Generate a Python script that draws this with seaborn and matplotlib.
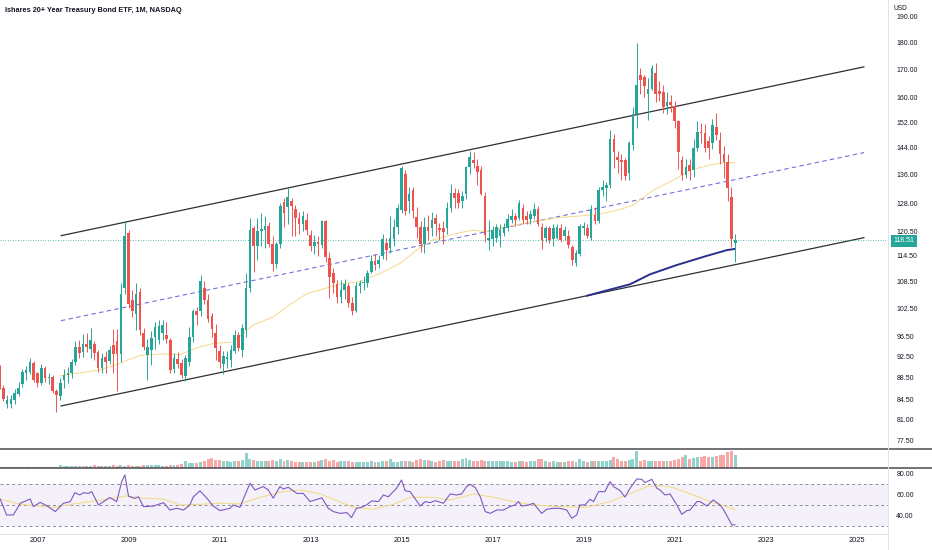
import numpy as np
import pandas as pd
import matplotlib
matplotlib.use("Agg")
import matplotlib.pyplot as plt
import seaborn as sns
from matplotlib.lines import Line2D
from matplotlib.ticker import NullLocator, FixedLocator, FixedFormatter

sns.set_theme(style="white")
plt.rcParams["font.family"] = ["Liberation Sans", "DejaVu Sans"]

# ---------------- data (monthly candles, Mar 2006 .. May 2022) ----------------
start_year, start_month = 2006, 3

opens = [
    90.6, 86.6, 83.7, 83.6, 84.4, 85.4, 87.3, 89.3, 89.6, 91.2,
    89.3, 87.4, 90.3, 88.3, 88.5, 86.0, 85.0, 88.0, 89.0, 89.4, 91.4, 94.4,
    93.3, 95.0, 94.0, 95.0, 93.4, 90.3, 92.4, 91.6, 94.8, 95.5, 93.0, 106.9,
    120.1, 104.3, 101.2, 106.0, 97.2, 92.8, 93.7, 96.5, 95.8, 97.2, 96.8, 95.8,
    90.0, 92.0, 91.2, 88.8, 91.4, 96.5, 101.8, 101.8, 107.0, 104.3, 100.8, 97.2,
    93.5, 91.0, 92.0, 91.9, 93.5, 96.8, 93.8, 97.8, 107.0, 121.5, 116.9, 120.7,
    121.0, 121.9, 117.5, 112.5, 117.3, 128.4, 127.0, 128.5, 126.5, 124.1, 122.6, 123.5,
    119.6, 116.8, 117.9, 117.2, 123.3, 114.0, 110.3, 107.8, 104.9, 106.5, 107.5, 103.6,
    101.9, 107.3, 108.2, 108.1, 110.6, 113.3, 112.5, 114.5, 117.6, 116.3, 118.6, 121.6,
    126.2, 136.2, 128.7, 131.6, 124.2, 121.6, 117.4, 121.6, 121.4, 124.1, 121.5, 121.4,
    121.4, 126.7, 130.7, 130.7, 128.6, 130.4, 138.2, 140.3, 138.4, 137.3, 130.1, 118.4,
    118.7, 119.0, 119.4, 120.2, 121.4, 123.5, 124.7, 124.1, 126.8, 124.7, 123.7, 124.7,
    126.4, 121.6, 119.0, 121.4, 118.7, 119.0, 121.4, 119.4, 119.5, 116.6, 112.7, 115.0,
    121.4, 121.4, 118.9, 124.9, 123.2, 131.6, 132.2, 133.0, 146.8, 141.3, 140.3, 140.3,
    136.6, 144.8, 154.7, 167.9, 167.3, 161.5, 163.2, 168.6, 162.5, 162.0, 157.2, 158.5,
    157.4, 152.3, 140.3, 136.0, 138.7, 137.3, 143.8, 149.0, 148.4, 146.0, 145.3, 150.5,
    146.3, 142.1, 139.6, 129.8, 117.7,
]
highs = [
    90.9, 87.1, 85.2, 85.3, 86.3, 87.6, 90.0, 90.6, 92.3, 91.6,
    89.6, 91.1, 90.7, 89.3, 88.9, 86.4, 88.3, 90.0, 90.5, 92.0, 95.5, 95.8,
    97.0, 97.2, 98.3, 95.6, 93.8, 93.2, 93.6, 94.5, 98.0, 98.0, 108.0, 123.2,
    121.0, 106.5, 108.0, 107.0, 98.2, 96.0, 97.7, 99.5, 100.0, 100.0, 99.5, 96.3,
    93.2, 93.3, 92.0, 92.8, 98.5, 102.2, 102.8, 109.9, 108.5, 105.5, 101.5, 99.0,
    94.8, 93.5, 93.5, 94.8, 97.8, 97.5, 99.0, 110.5, 124.0, 122.0, 124.0, 125.4,
    124.5, 123.0, 119.5, 118.0, 128.0, 129.5, 132.2, 129.5, 127.5, 125.6, 125.9, 125.5,
    121.0, 119.7, 119.5, 123.5, 123.6, 115.5, 111.5, 108.7, 108.8, 109.0, 108.2, 105.0,
    108.4, 108.9, 109.6, 111.1, 114.7, 115.0, 114.6, 119.8, 119.0, 124.5, 123.8, 127.9,
    138.5, 137.2, 132.5, 132.5, 127.0, 123.3, 124.3, 124.9, 125.6, 125.1, 122.8, 123.2,
    128.4, 133.4, 132.1, 132.0, 131.5, 138.5, 143.1, 142.8, 140.5, 138.5, 131.0, 123.5,
    122.0, 122.5, 122.5, 122.8, 125.0, 126.5, 125.5, 129.0, 127.8, 125.9, 126.1, 128.0,
    127.2, 122.8, 122.0, 122.1, 122.5, 122.5, 122.5, 122.0, 121.0, 117.2, 115.9, 122.5,
    123.0, 122.6, 127.5, 127.1, 132.4, 134.5, 134.0, 149.6, 148.3, 143.0, 142.0, 141.0,
    146.0, 157.0, 179.7, 170.6, 168.0, 167.0, 171.6, 172.2, 166.0, 164.5, 162.0, 161.0,
    159.0, 152.8, 141.5, 140.5, 140.5, 146.6, 152.4, 151.8, 151.5, 147.5, 153.0, 155.1,
    148.8, 144.5, 142.0, 132.5, 119.9,
]
lows = [
    86.3, 84.2, 83.0, 82.9, 83.6, 85.0, 86.8, 88.0, 89.2, 87.6,
    86.8, 87.0, 87.6, 87.3, 85.7, 82.3, 84.4, 86.5, 87.4, 88.4, 90.8, 92.2,
    92.5, 93.3, 92.3, 91.8, 89.6, 89.3, 89.4, 91.0, 89.4, 86.0, 91.5, 105.5,
    102.5, 100.6, 97.8, 96.8, 93.8, 88.0, 90.9, 94.0, 95.0, 95.8, 95.2, 89.4,
    89.3, 90.3, 88.4, 87.8, 90.6, 95.3, 98.8, 100.8, 103.5, 99.5, 96.5, 91.8,
    90.3, 89.2, 90.3, 90.5, 93.2, 93.5, 92.5, 96.5, 106.0, 110.6, 113.5, 116.9,
    116.5, 116.6, 110.9, 111.5, 116.5, 121.8, 122.5, 119.5, 119.5, 119.8, 120.6, 119.7,
    115.6, 114.9, 114.5, 116.4, 112.9, 104.8, 105.8, 103.7, 103.6, 104.6, 102.8, 101.0,
    101.6, 105.9, 106.4, 107.2, 110.3, 111.2, 111.6, 113.8, 113.5, 115.1, 117.0, 119.9,
    125.5, 124.8, 125.3, 124.0, 119.0, 115.5, 115.1, 118.4, 119.5, 119.5, 118.5, 117.5,
    119.8, 125.6, 126.6, 126.8, 126.6, 129.2, 136.2, 137.8, 133.0, 130.2, 117.8, 116.0,
    117.0, 118.0, 116.6, 119.5, 120.8, 122.8, 121.9, 123.5, 122.5, 122.6, 122.6, 123.8,
    122.0, 116.2, 117.8, 117.6, 116.8, 118.6, 118.0, 118.5, 116.3, 112.4, 112.0, 114.4,
    119.6, 119.0, 118.5, 122.5, 122.8, 129.9, 128.6, 132.2, 138.0, 136.5, 134.6, 134.5,
    134.5, 143.3, 150.2, 161.2, 160.3, 152.7, 162.6, 158.6, 159.1, 154.9, 154.6, 155.3,
    150.0, 137.5, 134.5, 135.0, 134.6, 135.2, 143.0, 145.5, 142.8, 140.5, 143.5, 146.5,
    139.0, 135.0, 128.5, 116.6, 112.9,
]
closes = [
    86.7, 84.5, 84.4, 84.5, 85.6, 86.6, 89.5, 89.9, 91.4, 88.0,
    87.4, 90.3, 88.4, 88.6, 86.0, 85.2, 87.4, 89.0, 89.4, 91.5, 94.4, 93.1,
    95.0, 94.3, 95.7, 93.1, 90.3, 92.3, 91.5, 93.8, 92.9, 93.0, 105.7, 119.3,
    103.5, 101.8, 105.7, 97.8, 94.4, 94.4, 96.3, 98.4, 98.6, 98.8, 95.9, 89.9,
    92.3, 91.0, 88.9, 92.3, 96.5, 101.8, 101.0, 108.5, 104.3, 100.2, 98.0, 94.1,
    91.4, 92.6, 92.4, 93.8, 96.8, 94.1, 98.3, 107.0, 120.9, 117.0, 120.7, 121.3,
    121.9, 117.4, 112.6, 117.3, 127.3, 125.3, 129.8, 127.2, 124.1, 122.6, 124.6, 120.9,
    116.8, 117.9, 117.3, 123.3, 114.2, 109.4, 108.0, 104.9, 106.5, 107.8, 103.6, 101.9,
    107.3, 108.2, 108.4, 110.4, 113.2, 112.4, 113.4, 118.6, 116.0, 119.0, 121.6, 126.8,
    137.8, 125.8, 130.4, 125.8, 121.6, 117.4, 121.6, 120.6, 123.5, 122.6, 120.9, 120.5,
    126.8, 130.7, 129.4, 128.1, 130.1, 138.2, 141.3, 139.3, 136.9, 130.4, 119.6, 119.0,
    120.9, 121.6, 120.9, 121.6, 123.9, 124.7, 123.5, 128.1, 123.5, 123.5, 125.1, 126.4,
    122.6, 118.4, 121.4, 118.4, 121.4, 121.6, 118.4, 120.9, 117.1, 113.5, 115.3, 121.9,
    121.9, 119.5, 126.4, 123.2, 131.6, 132.5, 133.0, 146.8, 142.8, 140.3, 139.7, 135.5,
    145.3, 154.7, 164.5, 166.2, 164.0, 163.2, 170.3, 161.5, 161.2, 157.0, 158.7, 157.5,
    152.3, 142.8, 136.0, 138.3, 137.0, 143.8, 149.0, 148.4, 143.8, 144.0, 151.2, 147.8,
    142.1, 139.6, 132.1, 118.7, 118.51,
]
volumes = [
    3, 3, 3, 3, 3, 3, 3, 3, 3, 3,
    3, 3, 3, 3, 3, 4, 9, 7, 6, 6, 7, 7,
    6, 7, 7, 8, 7, 7, 7, 7, 8, 6, 8, 7,
    8, 7, 7, 7, 8, 10, 9, 8, 8, 7, 6, 8,
    8, 9, 12, 22, 16, 14, 16, 19, 21, 26, 29, 24,
    24, 21, 20, 17, 20, 21, 24, 45, 28, 24, 21, 20,
    20, 21, 24, 20, 26, 21, 24, 20, 17, 19, 18, 17,
    17, 18, 21, 24, 26, 21, 24, 19, 21, 20, 20, 19,
    18, 19, 19, 19, 20, 19, 19, 20, 20, 26, 17, 19,
    20, 21, 21, 18, 24, 26, 24, 23, 20, 19, 21, 24,
    22, 20, 20, 21, 26, 29, 24, 21, 20, 24, 21, 20,
    21, 20, 21, 20, 20, 19, 19, 21, 20, 19, 21, 20,
    28, 26, 20, 19, 20, 18, 19, 18, 21, 20, 19, 26,
    20, 19, 21, 20, 22, 21, 20, 24, 34, 26, 20, 21,
    24, 26, 52, 21, 24, 20, 22, 21, 20, 21, 22, 20,
    24, 26, 34, 40, 26, 31, 34, 34, 35, 34, 34, 36,
    40, 40, 48, 50, 40,
]
last_price = 118.51

# 50-period moving average (yellow)
ma50_t = [2007.49, 2008.37, 2008.81, 2009.25, 2009.69, 2010.13, 2010.57, 2010.86,
          2011.30, 2011.74, 2012.18, 2012.48, 2012.92, 2013.21, 2013.65, 2014.09,
          2014.53, 2014.97, 2015.33, 2015.69, 2016.21, 2016.57, 2016.87, 2017.31,
          2017.89, 2018.48, 2018.92, 2019.36, 2019.80, 2020.09, 2020.53, 2020.97,
          2021.34, 2021.78, 2022.07, 2022.33]
ma50_v = [88.8, 89.9, 91.2, 92.7, 93.0, 92.9, 94.4, 95.1,
          95.4, 98.9, 100.6, 102.8, 105.7, 106.5, 107.9, 108.4,
          110.3, 112.7, 115.9, 118.4, 120.1, 120.9, 120.5, 121.8,
          123.1, 124.2, 124.6, 125.1, 126.3, 127.5, 131.6, 134.4,
          137.3, 138.8, 139.5, 139.5]

# 200-period moving average (navy)
ma200_t = [2019.07, 2019.47, 2020.02, 2020.46, 2021.05, 2021.71, 2022.15, 2022.33]
ma200_v = [105.2, 106.3, 107.8, 110.1, 112.3, 114.5, 115.9, 116.2]

# parallel channel
chan_t = [2007.516, 2025.165]
chan_upper = [119.5, 170.9]
chan_mid = [99.8, 142.5]
chan_lower = [83.3, 119.0]

# RSI (purple) and its moving average (yellow)
rsi_t = [2006.18, 2006.32, 2006.47, 2006.62, 2006.84, 2006.91, 2007.06, 2007.20, 2007.39,
         2007.57, 2007.72, 2007.82, 2007.93, 2008.01, 2008.12, 2008.19, 2008.34, 2008.45,
         2008.59, 2008.74, 2008.85, 2008.92, 2009.00, 2009.14, 2009.22, 2009.33, 2009.55,
         2009.77, 2009.91, 2010.06, 2010.21, 2010.35, 2010.42, 2010.57, 2010.72, 2010.86,
         2011.01, 2011.23, 2011.30, 2011.45, 2011.56, 2011.67, 2011.78, 2011.96, 2012.07,
         2012.18, 2012.33, 2012.40, 2012.51, 2012.70, 2012.84, 2012.99, 2013.25, 2013.39,
         2013.50, 2013.65, 2013.80, 2013.90, 2014.01, 2014.12, 2014.23, 2014.34, 2014.49,
         2014.60, 2014.71, 2014.89, 2015.00, 2015.08, 2015.19, 2015.41, 2015.52, 2015.63,
         2015.74, 2015.92, 2016.07, 2016.21, 2016.32, 2016.43, 2016.51, 2016.62, 2016.73,
         2016.84, 2016.95, 2017.09, 2017.24, 2017.38, 2017.49, 2017.57, 2017.64, 2017.79,
         2017.90, 2018.08, 2018.19, 2018.34, 2018.48, 2018.63, 2018.74, 2018.85, 2018.92,
         2019.03, 2019.14, 2019.22, 2019.33, 2019.47, 2019.58, 2019.66, 2019.80, 2019.91,
         2020.02, 2020.17, 2020.28, 2020.35, 2020.50, 2020.61, 2020.68, 2020.79, 2020.90,
         2021.05, 2021.16, 2021.27, 2021.34, 2021.49, 2021.56, 2021.71, 2021.85, 2022.00,
         2022.07, 2022.18, 2022.26, 2022.33]
rsi_v = [55.7, 40.5, 40.5, 51.6, 55.7, 48.4, 52.5, 49.4, 43.7,
         51.6, 53.2, 61.7, 59.5, 61.7, 61.0, 62.7, 50.0, 53.2,
         57.1, 53.2, 72.2, 78.6, 58.4, 56.2, 57.8, 48.4, 49.0,
         52.2, 45.2, 46.8, 45.2, 50.0, 57.5, 63.5, 56.5, 49.0,
         44.6, 46.8, 50.0, 47.8, 59.5, 70.6, 64.3, 67.5, 64.3,
         56.5, 67.5, 65.2, 66.8, 61.0, 61.0, 53.3, 56.8, 46.8,
         43.7, 42.0, 42.7, 38.0, 46.8, 47.8, 50.0, 53.8, 53.2,
         59.5, 57.8, 65.9, 73.8, 63.5, 62.7, 49.0, 53.2, 52.2,
         54.1, 51.6, 60.5, 59.5, 60.5, 67.5, 69.7, 66.5, 57.8,
         43.7, 42.0, 45.2, 45.2, 48.4, 50.0, 53.2, 49.0, 50.0,
         51.6, 42.0, 45.9, 46.8, 46.8, 45.2, 37.3, 40.5, 50.0,
         50.0, 55.4, 53.2, 62.7, 62.7, 72.2, 67.5, 63.8, 57.5,
         65.9, 74.8, 74.4, 71.3, 74.4, 65.9, 64.3, 59.5, 60.5,
         50.0, 41.1, 44.6, 45.2, 53.2, 53.2, 49.0, 54.8, 50.0,
         45.9, 37.3, 31.0, 31.0]
rsi_ma_t = [2006.18, 2006.62, 2007.05, 2007.38, 2007.79, 2008.30, 2008.74, 2008.96,
            2009.33, 2009.77, 2010.13, 2010.57, 2011.01, 2011.45, 2011.89, 2012.40,
            2012.77, 2013.21, 2013.50, 2013.94, 2014.38, 2014.82, 2015.19, 2015.70,
            2016.07, 2016.58, 2017.02, 2017.46, 2017.90, 2018.48, 2019.07, 2019.58,
            2019.95, 2020.39, 2020.68, 2020.97, 2021.41, 2021.85, 2022.33]
rsi_ma_v = [55.7, 50.6, 49.0, 47.8, 51.0, 54.1, 57.1, 58.7,
            56.5, 55.7, 50.0, 50.6, 51.6, 51.0, 57.3, 62.7,
            64.3, 60.5, 55.4, 47.8, 45.9, 50.6, 57.3, 57.3,
            54.8, 60.5, 57.3, 53.2, 50.0, 48.4, 47.8, 53.2,
            59.5, 67.5, 68.4, 66.5, 59.5, 52.2, 45.9]

price_ticks = [77.5, 81, 84.5, 88.5, 92.5, 96.5, 102.5, 108.5, 114.5, 120.5,
               128, 136, 144, 152, 160, 170, 180, 190]
rsi_ticks = [40, 60, 80]
year_ticks = [2007, 2009, 2011, 2013, 2015, 2017, 2019, 2021, 2023, 2025]
title = "Ishares 20+ Year Treasury Bond ETF, 1M, NASDAQ"

# ---------------- build frame ----------------
n = len(closes)
df = pd.DataFrame({
    "t": [start_year + (start_month - 1 + i) / 12 for i in range(n)],
    "open": opens, "high": highs, "low": lows, "close": closes, "volume": volumes,
})
GREEN, RED = "#26a69a", "#ef5350"
df["color"] = np.where(df["close"] >= df["open"], GREEN, RED)

W, H = 932, 550
fig = plt.figure(figsize=(W / 100, H / 100), dpi=100)
fig.patch.set_facecolor("white")
right = 888 / W
ax = fig.add_axes([0, 1 - 449 / H, right, 449 / H])
axv = fig.add_axes([0, 1 - 468 / H, right, 19 / H])
axr = fig.add_axes([0, 1 - 533 / H, right, 65 / H])

xlim = (2006.176, 2025.69)
price_fs = 5.0
year_fs = 5.4
tick_col = "#131722"

# ---------------- main price pane ----------------
ax.set_yscale("log")
ax.set_xlim(*xlim)
ax.set_ylim(76.04, 196.9)

# channel
sns.lineplot(x=chan_t, y=chan_upper, ax=ax, color="#2f2f33", linewidth=0.9)
sns.lineplot(x=chan_t, y=chan_lower, ax=ax, color="#2f2f33", linewidth=0.9)
ax.plot(chan_t, chan_mid, color="#6d70e0", linewidth=0.8, dashes=(4, 3))

# last price line
ax.axhline(last_price, color=GREEN, linewidth=0.6, linestyle=(0, (1, 2)))

# moving averages
sns.lineplot(x=ma50_t, y=ma50_v, ax=ax, color="#f5d98a", linewidth=0.7)
sns.lineplot(x=ma200_t, y=ma200_v, ax=ax, color="#2b2e91", linewidth=1.4)

# candles
ax.vlines(df["t"], df["low"], df["high"], colors=df["color"], linewidth=0.7, zorder=3)
body = np.maximum((df["close"] - df["open"]).abs(), 0.2)
ax.bar(df["t"], body, bottom=np.minimum(df["open"], df["close"]), width=0.058,
       color=df["color"], linewidth=0, zorder=4)

ax.yaxis.tick_right()
ax.yaxis.set_minor_locator(NullLocator())
ax.yaxis.set_major_locator(FixedLocator(price_ticks))
ax.yaxis.set_major_formatter(FixedFormatter([f"{v:.2f}" for v in price_ticks]))
ax.tick_params(axis="y", length=0, pad=6, labelsize=price_fs, labelcolor=tick_col)
ax.set_xticks([])
for s in ax.spines.values():
    s.set_visible(False)

# ---------------- volume pane ----------------
axv.bar(df["t"], df["volume"], width=0.065, color=df["color"], alpha=0.5, linewidth=0)
axv.set_xlim(*xlim)
axv.set_ylim(0, 57)
axv.set_xticks([])
axv.set_yticks([])
for s in axv.spines.values():
    s.set_visible(False)

# ---------------- RSI pane ----------------
axr.set_xlim(*xlim)
axr.set_ylim(23.3, 85.2)
axr.axhspan(30, 70, color="#7e57c2", alpha=0.08, linewidth=0)
for lvl in (70, 50, 30):
    axr.axhline(lvl, color="#8a8d99", linewidth=0.7, dashes=(3, 3))
sns.lineplot(x=rsi_ma_t, y=rsi_ma_v, ax=axr, color="#f2dc8a", linewidth=0.8)
sns.lineplot(x=rsi_t, y=rsi_v, ax=axr, color="#7e57c2", linewidth=0.8)
axr.yaxis.tick_right()
axr.set_yticks(rsi_ticks)
axr.set_yticklabels([f"{v:.2f}" for v in rsi_ticks])
axr.set_xticks(year_ticks)
axr.set_xticklabels([str(y) for y in year_ticks])
axr.tick_params(axis="y", length=0, pad=6, labelsize=price_fs, labelcolor=tick_col)
axr.tick_params(axis="x", length=0, pad=3, labelsize=year_fs, labelcolor=tick_col)
for s in axr.spines.values():
    s.set_visible(False)
for a in (ax, axv, axr):
    a.set_xlabel("")
    a.set_ylabel("")

# ---------------- frame lines & labels ----------------
for yy in (449, 468):
    fig.add_artist(Line2D([0, 1], [1 - yy / H, 1 - yy / H], color="#4a4a4f", linewidth=1.1))
fig.add_artist(Line2D([right, right], [0, 1], color="#e0e3eb", linewidth=0.7))
fig.add_artist(Line2D([0, right], [1 - 533.5 / H, 1 - 533.5 / H], color="#e0e3eb", linewidth=0.7))

fig.text(5 / W, 1 - 11 / H, title, ha="left", va="center", fontsize=5.3,
         color=tick_col, fontweight="semibold")
fig.text(894 / W, 1 - 8 / H, "USD", ha="left", va="center", fontsize=4.8, color=tick_col)
fig.text(904 / W, 1 - 241 / H, f"{last_price:.2f}", ha="center", va="center",
         fontsize=price_fs, color="white",
         bbox=dict(boxstyle="square,pad=0.35", fc=GREEN, ec="none"))

fig.savefig("out.png", dpi=100, facecolor="white")
